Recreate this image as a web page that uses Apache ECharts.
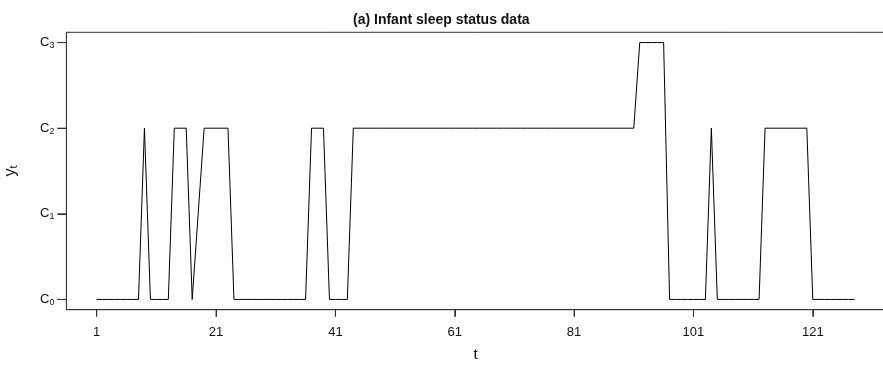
<!DOCTYPE html>
<html>
<head>
<meta charset="utf-8">
<script src="https://cdn.jsdelivr.net/npm/echarts@6/dist/echarts.min.js"></script>
<style>html,body{margin:0;padding:0;background:#fff}#c{width:883px;height:367px}</style>
</head>
<body>
<div id="c"></div>
<script>
// Time index t = 1..128
var timeIndex = [
  1,2,3,4,5,6,7,8,9,10,11,12,13,14,15,16,17,18,19,20,21,22,23,24,25,26,27,28,29,30,31,32,
  33,34,35,36,37,38,39,40,41,42,43,44,45,46,47,48,49,50,51,52,53,54,55,56,57,58,59,60,61,62,63,64,
  65,66,67,68,69,70,71,72,73,74,75,76,77,78,79,80,81,82,83,84,85,86,87,88,89,90,91,92,93,94,95,96,
  97,98,99,100,101,102,103,104,105,106,107,108,109,110,111,112,113,114,115,116,117,118,119,120,121,122,123,124,125,126,127,128
];
// Sleep state y_t (index of C0..C3)
var sleepState = [
  0,0,0,0,0,0,0,0,2,0,0,0,0,2,2,2,0,1,2,2,2,2,2,0,0,0,0,0,0,0,0,0,
  0,0,0,0,2,2,2,0,0,0,0,2,2,2,2,2,2,2,2,2,2,2,2,2,2,2,2,2,2,2,2,2,
  2,2,2,2,2,2,2,2,2,2,2,2,2,2,2,2,2,2,2,2,2,2,2,2,2,2,2,3,3,3,3,3,
  0,0,0,0,0,0,0,2,0,0,0,0,0,0,0,0,2,2,2,2,2,2,2,2,0,0,0,0,0,0,0,0
];
var xTicks = [1, 21, 41, 61, 81, 101, 121];
var yTicks = [0, 1, 2, 3];
var titleText = '(a) Infant sleep status data';

var pts = timeIndex.map(function (t, i) { return [t, sleepState[i]]; });
var chart = echarts.init(document.getElementById('c'), null, {renderer: 'canvas'});
var FONT = 'Liberation Sans, Arial, sans-serif';
var TICK_COLOR = '#333';

function yTickRender(params, api) {
  var p = api.coord([api.value(0), api.value(1)]);
  var cs = params.coordSys;
  return {type: 'line', z2: 100, shape: {x1: cs.x - 9, y1: p[1], x2: cs.x, y2: p[1]},
          style: {stroke: TICK_COLOR, lineWidth: 1}};
}
function xTickRender(params, api) {
  var p = api.coord([api.value(0), api.value(1)]);
  var cs = params.coordSys;
  var yb = cs.y + cs.height;
  return {type: 'line', z2: 100, shape: {x1: p[0], y1: yb, x2: p[0], y2: yb + 7},
          style: {stroke: TICK_COLOR, lineWidth: 1}};
}

chart.setOption({
  animation: false,
  backgroundColor: '#fff',
  title: {
    text: titleText, left: 348, top: 8,
    textStyle: {fontFamily: FONT, fontSize: 14, fontWeight: 'bold', color: '#111'}
  },
  grid: {
    left: 66.4, right: -2, top: 32.3, bottom: 57.3,
    outerBoundsMode: 'none', containLabel: false,
    show: true, borderColor: '#333', borderWidth: 1, backgroundColor: 'transparent'
  },
  xAxis: [{
    type: 'value', min: -4.08, max: 133.1, position: 'bottom',
    name: 't', nameLocation: 'middle', nameGap: 38,
    nameTextStyle: {fontFamily: FONT, fontSize: 15, color: '#111'},
    axisLine: {show: true, onZero: true, onZeroAxisIndex: 1, lineStyle: {color: '#333', width: 1}},
    splitLine: {show: false},
    axisTick: {show: true, customValues: xTicks, length: 7, lineStyle: {color: TICK_COLOR, width: 1}},
    axisLabel: {customValues: xTicks, margin: 16, fontFamily: FONT, fontSize: 13, color: '#111'}
  }, {
    type: 'value', min: 0, max: 1, position: 'top', show: false
  }],
  yAxis: [{
    type: 'value', min: -0.12, max: 3.12, position: 'left',
    name: '{y|y}{s|t}', nameLocation: 'middle', nameGap: 46, nameRotate: 90,
    nameTextStyle: {
      rich: {
        y: {fontFamily: FONT, fontSize: 16, color: '#111', lineHeight: 20},
        s: {fontFamily: FONT, fontSize: 11, color: '#111', lineHeight: 20, padding: [8, 0, 0, 0]}
      }
    },
    axisLine: {show: true, onZero: true, onZeroAxisIndex: 1, lineStyle: {color: '#333', width: 1}},
    splitLine: {show: false},
    axisTick: {show: true, customValues: yTicks, length: 9, lineStyle: {color: TICK_COLOR, width: 1}},
    axisLabel: {
      customValues: yTicks, margin: 12,
      formatter: function (v) { return '{c|C}{s|' + v + '}'; },
      rich: {
        c: {fontFamily: FONT, fontSize: 13, color: '#111', lineHeight: 16},
        s: {fontFamily: FONT, fontSize: 9, color: '#111', lineHeight: 16, padding: [6, 0, 0, 0]}
      }
    }
  }, {
    type: 'value', min: 0, max: 1, position: 'right', show: false
  }],
  series: [{
    type: 'line', data: pts, showSymbol: false, symbol: 'none',
    xAxisIndex: 0, yAxisIndex: 0,
    lineStyle: {color: '#000', width: 1}
  }, {
    type: 'custom', clip: false, silent: true, z: 5,
    xAxisIndex: 0, yAxisIndex: 0,
    data: yTicks.map(function (v) { return [1, v]; }),
    renderItem: yTickRender
  }, {
    type: 'custom', clip: false, silent: true, z: 5,
    xAxisIndex: 0, yAxisIndex: 0,
    data: xTicks.map(function (v) { return [v, 0]; }),
    renderItem: xTickRender
  }]
});
</script>
</body>
</html>
